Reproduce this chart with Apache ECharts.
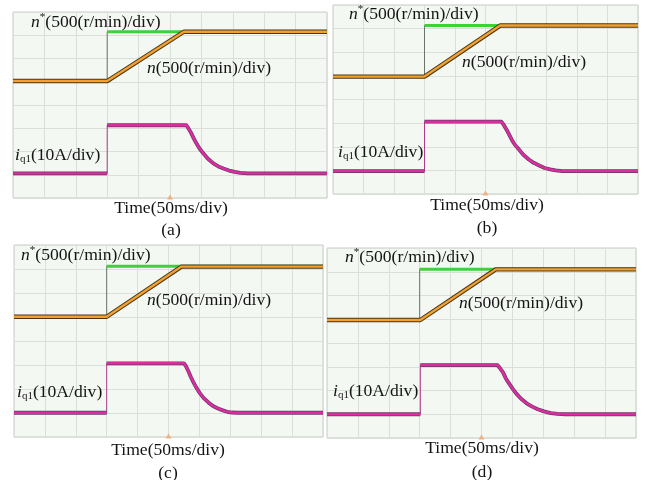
<!DOCTYPE html>
<html>
<head>
<meta charset="utf-8">
<script src="https://cdn.jsdelivr.net/npm/echarts@6/dist/echarts.min.js"></script>
<style>
html, body { margin: 0; background: #fff; }
#chart { width: 645px; height: 480px; }
</style>
</head>
<body>
<div id="chart"></div>
<script>
// 50 ms/div, 500 (r/min)/div, 10 A/div
const panelLabels = ['(a)', '(b)', '(c)', '(d)'];

// speed command n* [time ms, r/min]
const nStarA = [[0, 15], [150, 15], [150, 1075], [500, 1075]];
const nStarB = [[0, -15], [150, -15], [150, 1065], [500, 1065]];
const nStarC = [[0, 5], [150, 5], [150, 1055], [500, 1055]];
const nStarD = [[0, -15], [150, -15], [150, 1055], [500, 1055]];

// measured speed n [time ms, r/min]
const nA = [[0, 15], [150, 15], [272, 1075], [500, 1075]];
const nB = [[0, -15], [150, -15], [274, 1065], [500, 1065]];
const nC = [[0, 5], [150, 5], [271, 1050], [500, 1050]];
const nD = [[0, -15], [151, -15], [273, 1050], [500, 1050]];

// q-axis current iq1 [time ms, A]
const iqA = [[0, 0.6], [150, 0.6], [150, 21.3], [276, 21.3], [279, 20.1], [284, 17.8], [288, 15.5], [292, 13.5], [297, 11.3],
  [303, 9.2], [310, 7.0], [319, 4.9], [327, 3.6], [335, 2.7], [344, 1.8], [353, 1.2], [362, 0.8], [374, 0.6], [500, 0.6]];
const iqB = [[0, -0.3], [150, -0.3], [150, 20.6], [276, 20.6], [279, 19.6], [285, 17.0], [289, 15.0], [293, 13.0], [298, 10.9],
  [305, 8.8], [312, 6.6], [321, 4.6], [329, 3.2], [338, 2.1], [347, 1.0], [356, 0.4], [365, 0.0], [376, -0.3], [500, -0.3]];
const iqC = [[0, 0.1], [150, 0.1], [150, 20.7], [275, 20.7], [278, 19.6], [282, 17.5], [286, 15.1], [290, 13.0], [295, 10.6],
  [300, 8.5], [307, 6.2], [315, 4.3], [322, 2.9], [330, 1.9], [338, 1.1], [345, 0.5], [353, 0.2], [362, 0.1], [500, 0.1]];
const iqD = [[0, 0], [151, 0], [151, 20.7], [276, 20.7], [279, 19.7], [285, 17.5], [289, 15.3], [294, 13.2], [300, 10.9],
  [306, 8.8], [314, 6.5], [323, 4.6], [332, 3.2], [341, 2.1], [351, 1.2], [362, 0.5], [373, 0.2], [386, 0], [500, 0]];

const nStarList = [nStarA, nStarB, nStarC, nStarD];
const nList = [nA, nB, nC, nD];
const iqList = [iqA, iqB, iqC, iqD];

const boxes = [
  { left: 13, top: 12, width: 314, height: 186 },
  { left: 333, top: 5, width: 305, height: 189 },
  { left: 14, top: 245, width: 309, height: 192 },
  { left: 327, top: 248, width: 309, height: 190 }
];
// label anchors: [n* x, n* y, n x, n y, iq x, iq y, caption x, time y, letter y]
const textPos = [
  [31, 22, 147, 68, 15, 155, 171, 208, 230],
  [349, 14, 462, 62, 338, 152, 487, 205, 228],
  [21, 255, 147, 300, 17, 392, 168, 450, 473],
  [345, 257, 459, 303, 333, 391, 482, 448, 472]
];

const serif = '"Liberation Serif", "Times New Roman", serif';
const fs = 17.6;
const plotBg = '#f3f8f2';

const grids = [], xAxes = [], yAxes = [], series = [], graphics = [];

boxes.forEach(function (b, k) {
  grids.push(Object.assign({
    show: true, backgroundColor: plotBg, borderColor: '#c9cdc9', borderWidth: 1
  }, b));
  xAxes.push({
    gridIndex: k, type: 'value', min: 0, max: 500, interval: 50,
    axisLine: { show: false }, axisTick: { show: false }, axisLabel: { show: false },
    splitLine: { show: true, lineStyle: { color: '#dadfda', width: 1 } }
  });
  // speed axis (draws the 8 vertical divisions)
  yAxes.push({
    gridIndex: k, type: 'value', min: -2500, max: 1500, interval: 500,
    axisLine: { show: false }, axisTick: { show: false }, axisLabel: { show: false },
    splitLine: { show: true, lineStyle: { color: '#dadfda', width: 1 } }
  });
  // current axis
  yAxes.push({
    gridIndex: k, type: 'value', min: -10, max: 70, interval: 10,
    axisLine: { show: false }, axisTick: { show: false }, axisLabel: { show: false },
    splitLine: { show: false }
  });
  const sy = 2 * k, cy = 2 * k + 1;
  const base = { type: 'line', xAxisIndex: k, showSymbol: false, symbol: 'none', silent: true };
  const iq = iqList[k];
  const iqBroken = iq.slice(0, 2).concat(['-'], iq.slice(2));

  series.push(Object.assign({}, base, {
    yAxisIndex: sy, data: nStarList[k], lineStyle: { color: '#6a746a', width: 1 }
  }));
  series.push(Object.assign({}, base, {
    yAxisIndex: sy, data: nStarList[k].slice(2), lineStyle: { color: '#3fd03a', width: 3 }
  }));
  series.push(Object.assign({}, base, {
    yAxisIndex: sy, data: nList[k], lineStyle: { color: '#4a3518', width: 4.4 }
  }));
  series.push(Object.assign({}, base, {
    yAxisIndex: sy, data: nList[k], lineStyle: { color: '#f2a12e', width: 2.4 }
  }));
  series.push(Object.assign({}, base, {
    yAxisIndex: cy, data: iq, lineStyle: { color: '#b03a8a', width: 1 }
  }));
  series.push(Object.assign({}, base, {
    yAxisIndex: cy, data: iqBroken, connectNulls: false,
    lineStyle: { color: '#6a3a5e', width: 3.8, join: 'round' }
  }));
  series.push(Object.assign({}, base, {
    yAxisIndex: cy, data: iqBroken, connectNulls: false,
    lineStyle: { color: '#dc2ca4', width: 2.4, join: 'round' },
    markPoint: {
      silent: true, symbol: 'triangle', symbolSize: [6, 5],
      itemStyle: { color: '#f0b080' }, label: { show: false },
      data: [{ coord: [250, -9.6] }]
    }
  }));

  const p = textPos[k];
  const labelStyle = {
    fontFamily: serif, fontSize: fs, fill: '#141414', verticalAlign: 'middle', align: 'left'
  };
  graphics.push({
    type: 'text', x: p[0], y: p[1], z: 10,
    style: Object.assign({}, labelStyle, {
      text: '{it|n}{sup|*}(500(r/min)/div)',
      rich: {
        it: { fontFamily: serif, fontSize: fs, fontStyle: 'italic', fill: '#141414', lineHeight: 20 },
        sup: { fontFamily: serif, fontSize: 11, fill: '#141414', verticalAlign: 'top', lineHeight: 20 }
      }
    })
  });
  graphics.push({
    type: 'text', x: p[2], y: p[3], z: 10,
    style: Object.assign({}, labelStyle, {
      text: '{it|n}(500(r/min)/div)',
      rich: { it: { fontFamily: serif, fontSize: fs, fontStyle: 'italic', fill: '#141414' } }
    })
  });
  graphics.push({
    type: 'text', x: p[4], y: p[5], z: 10,
    style: Object.assign({}, labelStyle, {
      text: '{it|i}{sub|q1}(10A/div)',
      rich: {
        it: { fontFamily: serif, fontSize: fs, fontStyle: 'italic', fill: '#141414', lineHeight: 20 },
        sub: { fontFamily: serif, fontSize: 11, fill: '#141414', verticalAlign: 'bottom', lineHeight: 20 }
      }
    })
  });
  graphics.push({
    type: 'text', x: p[6], y: p[7],
    style: Object.assign({}, labelStyle, { text: 'Time(50ms/div)', align: 'center' })
  });
  graphics.push({
    type: 'text', x: p[6], y: p[8],
    style: Object.assign({}, labelStyle, { text: panelLabels[k], align: 'center' })
  });
});

const chart = echarts.init(document.getElementById('chart'));
chart.setOption({
  animation: false,
  backgroundColor: '#fff',
  grid: grids,
  xAxis: xAxes,
  yAxis: yAxes,
  series: series,
  graphic: graphics
});
</script>
</body>
</html>
